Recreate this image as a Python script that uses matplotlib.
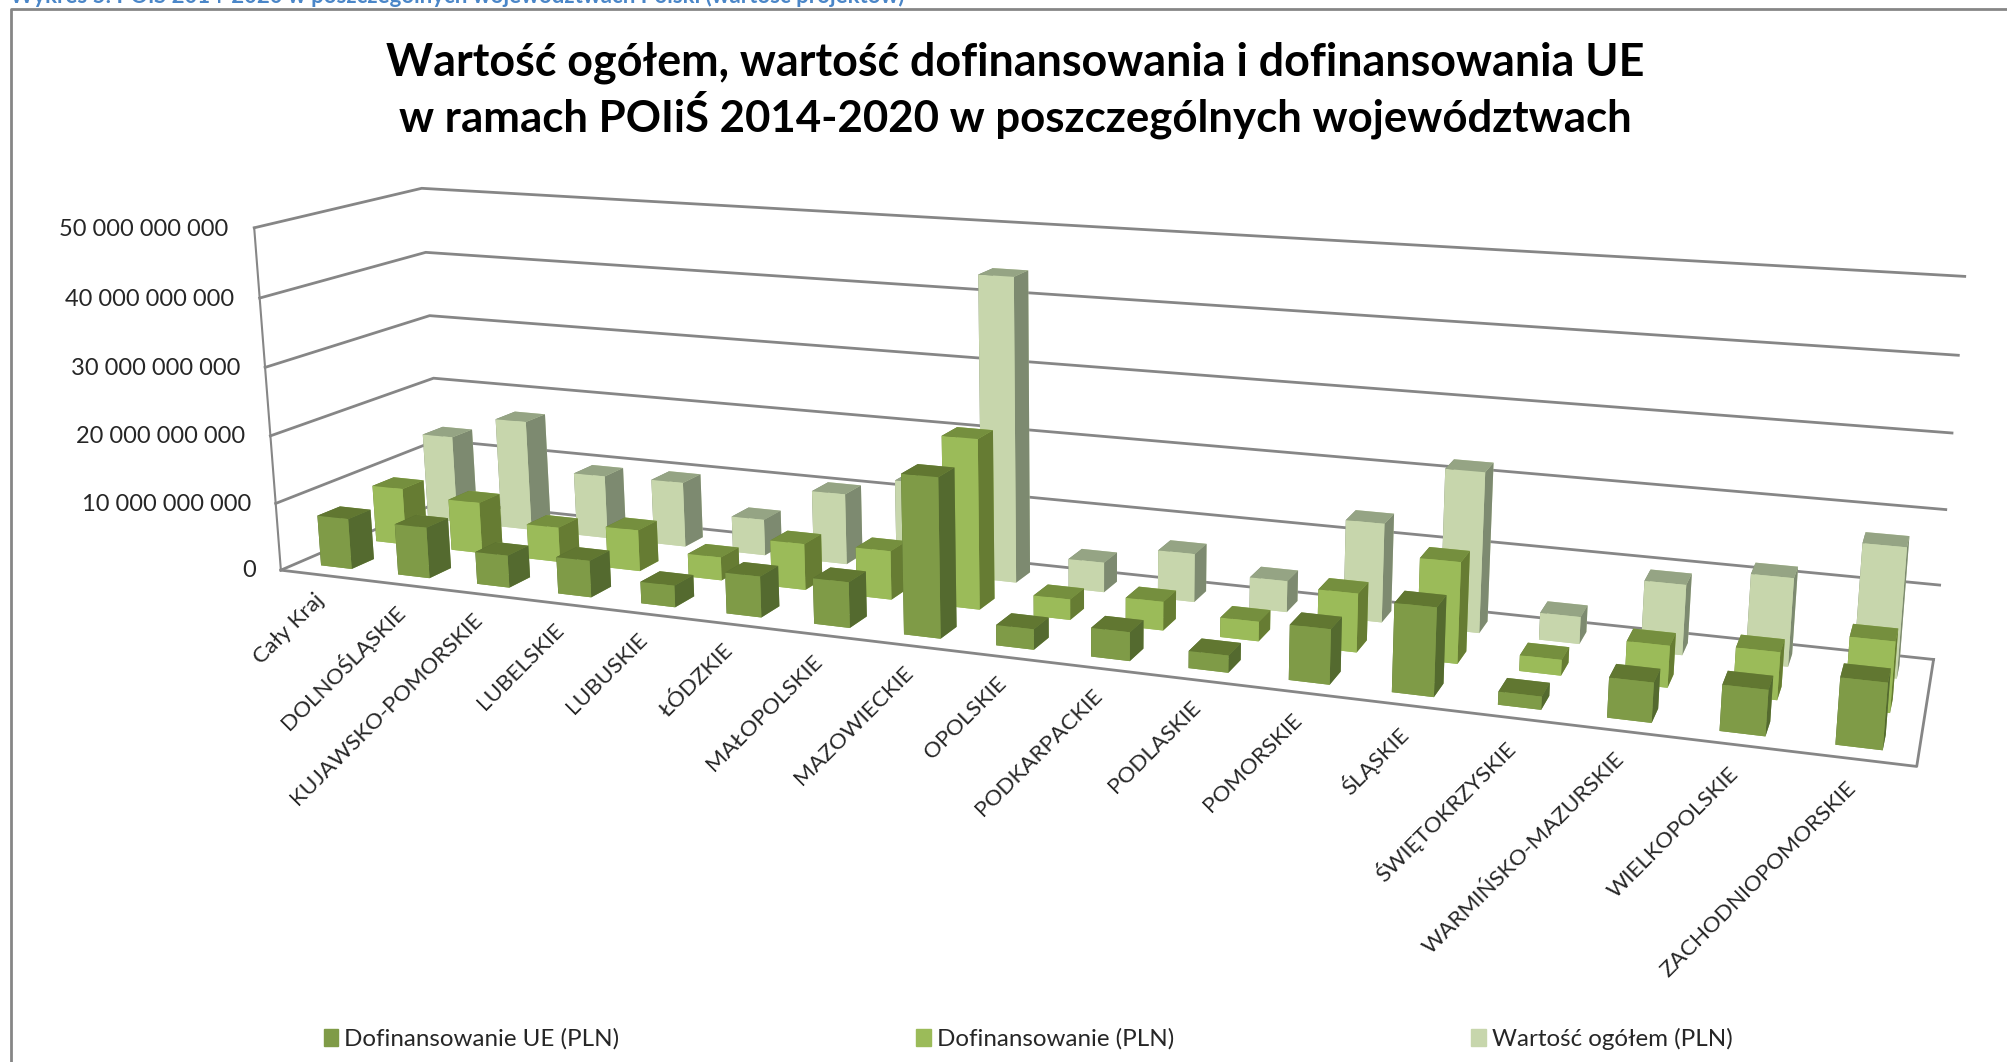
import numpy as np
import matplotlib
matplotlib.use('Agg')
import matplotlib.pyplot as plt
from matplotlib.patches import Patch
from matplotlib.lines import Line2D
from mpl_toolkits.mplot3d import proj3d

plt.rcParams['font.family'] = ['Lato', 'DejaVu Sans']

categories = ['Cały Kraj', 'DOLNOŚLĄSKIE', 'KUJAWSKO-POMORSKIE', 'LUBELSKIE', 'LUBUSKIE', 'ŁÓDZKIE',
              'MAŁOPOLSKIE', 'MAZOWIECKIE', 'OPOLSKIE', 'PODKARPACKIE', 'PODLASKIE', 'POMORSKIE',
              'ŚLĄSKIE', 'ŚWIĘTOKRZYSKIE', 'WARMIŃSKO-MAZURSKIE', 'WIELKOPOLSKIE', 'ZACHODNIOPOMORSKIE']
# values in bn PLN
ue = [7.5, 7.5, 4.7, 5.3, 3.1, 5.8, 6.4, 22.1, 2.8, 3.9, 2.3, 7.3, 11.6, 1.7, 5.1, 5.8, 8.3]
dof = [8.6, 7.7, 5.2, 6.1, 3.4, 6.7, 7.0, 24.1, 2.9, 4.0, 2.7, 8.0, 13.6, 2.1, 5.5, 6.2, 9.1]
total = [13.4, 16.9, 9.6, 9.8, 5.4, 10.5, 13.3, 44.0, 4.3, 6.9, 4.4, 13.8, 22.1, 3.7, 9.5, 11.8, 17.2]
ticks = [0, 10, 20, 30, 40, 50]
tick_labels = ['0', '10 000 000 000', '20 000 000 000', '30 000 000 000', '40 000 000 000', '50 000 000 000']
series_names = ['Dofinansowanie UE (PLN)', 'Dofinansowanie (PLN)', 'Wartość ogółem (PLN)']

fig = plt.figure(figsize=(20.08, 10.62), dpi=100)
ax = fig.add_axes([0, 0, 1, 1], projection='3d', computed_zorder=False)
n = len(categories)
ax.set_xlim(0, n, view_margin=0)
ax.set_ylim(0, 3, view_margin=0)
ax.set_zlim(0, 50e9, view_margin=0)

# camera fitted to the box corners of the reference
W, cx, cy = 1693.6, 1035.5, 457.4
ax.view_init(13.74, -69.14, 0.19)
ax.set_proj_type('persp', focal_length=0.282)
ax.set_box_aspect((4.508, 0.810, 1))
ax.set_position([(cx - W / 2) / 2008, (1062 - cy - W / 2) / 1062, W / 2008, W / 1062])
ax.set_axis_off()

grid_c = '#868686'
for t in ticks:
    ax.plot([0, 0, n], [0, 3, 3], [t * 1e9] * 3, color=grid_c, lw=2, zorder=1, clip_on=False)
ax.plot([0, n, n], [0, 0, 3], [0, 0, 0], color=grid_c, lw=2, zorder=1, clip_on=False)
ax.plot([0, 0], [0, 0], [0, 50e9], color=grid_c, lw=1.5, zorder=1, clip_on=False)

# colours: bottom, top, -y, +y, -x, +x
cols = [('#7F9B47', '#617731', '#546A2F'), ('#9BBB59', '#758F3E', '#667C33'), ('#C7D6AC', '#95A484', '#7D8A70')]
values = [ue, dof, total]
z = 2
for s in [2, 1, 0]:
    for i in range(n):
        fr, tp, sd = cols[s]
        ax.bar3d(i + .3, s + .3, 0, .4, .4, values[s][i] * 1e9, color=[fr, tp, fr, fr, sd, sd],
                 shade=False, linewidth=0, zorder=z, clip_on=False)
        z += 1

# Text3D ignores rotation, so the labels go in projected coordinates
M = ax.get_proj()
for t, lab in zip(ticks, tick_labels):
    px, py, _ = proj3d.proj_transform(-.33, 0, (t - .5) * 1e9, M)
    ax.text2D(px, py, lab, transform=ax.transData, ha='right', va='center', fontsize=17, color='#262626', zorder=200)
for i, c in enumerate(categories):
    px, py, _ = proj3d.proj_transform(i + .42, 0, -2.4e9, M)
    ax.text2D(px, py, c, transform=ax.transData, rotation=45, ha='right', va='top', rotation_mode='anchor',
              fontsize=16.2, color='#262626', zorder=200)

fig.text(1015 / 2008, 1 - 62.5 / 1062, 'Wartość ogółem, wartość dofinansowania i dofinansowania UE',
         ha='center', va='center', fontsize=32.3, fontweight='bold', color='black')
fig.text(1015 / 2008, 1 - 115 / 1062, 'w ramach POIiŚ 2014-2020 w poszczególnych województwach',
         ha='center', va='center', fontsize=31.5, fontweight='bold', color='black')
fig.text(10 / 2008, 1 - 3 / 1062, 'Wykres 5: POiŚ 2014-2020 w poszczególnych województwach Polski (wartość projektów)',
         ha='left', va='baseline', fontsize=16, fontweight='bold', color='#4A86C8')

# chart frame, only left and top are in the crop
fig.add_artist(Line2D([11 / 2008, 11 / 2008, 1], [0, 1 - 9 / 1062, 1 - 9 / 1062], color=grid_c, lw=2))

handles = [Patch(color=cols[k][0]) for k in range(3)]
fig.legend(handles, series_names, ncol=3, loc='center left', bbox_to_anchor=(302 / 2008, 1 - 1039 / 1062), frameon=False,
           fontsize=17.4, handlelength=.6, handletextpad=.25, columnspacing=12.29, labelcolor='#262626')

fig.savefig('out.png', dpi=100)
